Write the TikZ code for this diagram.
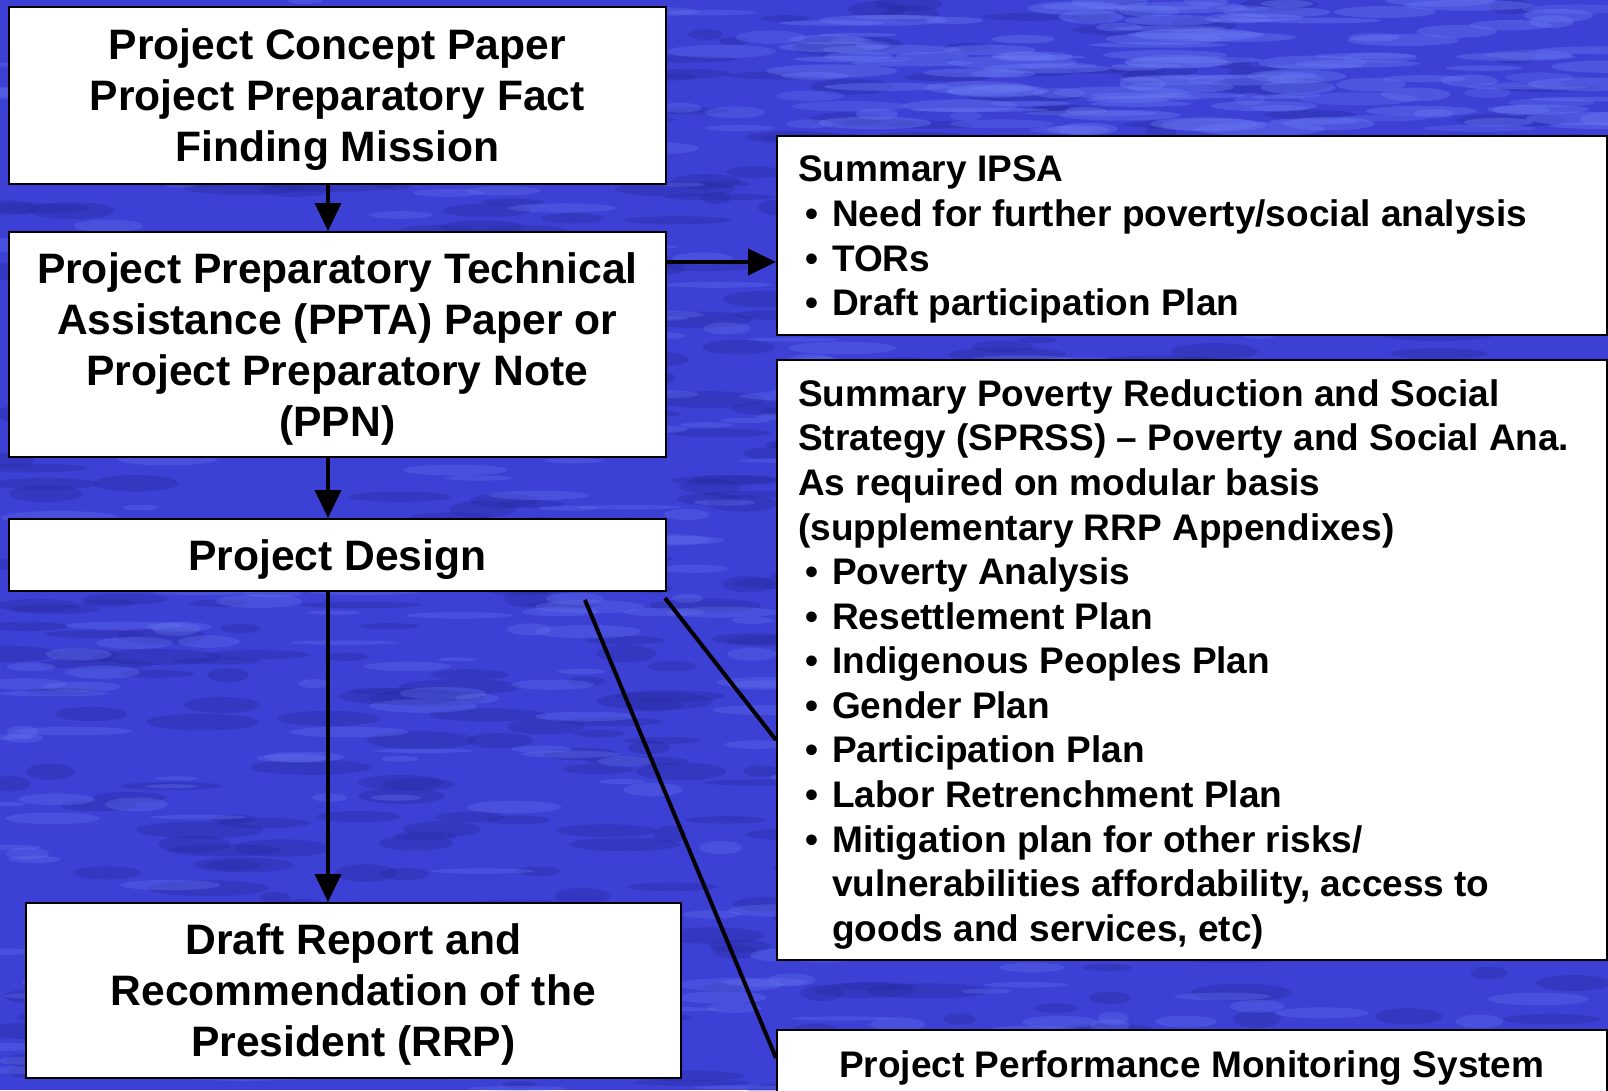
\documentclass[tikz,border=0pt]{standalone}
\usepackage{fontspec}
\setmainfont{Liberation Sans}
\usetikzlibrary{arrows.meta,calc}
\definecolor{bgblue}{RGB}{60,64,212}
\definecolor{bgdark}{RGB}{36,38,150}
\definecolor{bglight}{RGB}{105,120,242}
\newcommand{\bul}{\makebox[34pt][l]{\hspace{7pt}•}}
\newcommand{\ind}{\hspace*{34pt}}
\begin{document}
\begin{tikzpicture}[x=1pt,y=1pt,
  box/.style={draw=black, line width=1.6pt, fill=white, inner sep=0pt, anchor=north west},
  ctext/.style={align=center, yshift=-4.5pt, font=\fontsize{42.6}{51}\selectfont\bfseries},
  ltext/.style={align=left, inner sep=0pt, anchor=west, yshift=-4.5pt, font=\fontsize{37}{44.6}\selectfont\bfseries},
  conn/.style={line width=4pt},
  arr/.style={conn, -{Triangle[length=28pt,width=26pt]}}]
\useasboundingbox (0,0) rectangle (1608,-1090);
\begin{scope}
\clip (0,0) rectangle (1608,-1090);
\fill[bgblue] (0,0) rectangle (1608,-1090);
\pgfmathsetseed{7}
\foreach \i in {1,...,600}{
  \pgfmathsetmacro\cx{rnd*1608}
  \pgfmathsetmacro\cy{-rnd*1090}
  \pgfmathsetmacro\rw{15+rnd*50}
  \pgfmathsetmacro\rh{3+rnd*6}
  \fill[bgdark,opacity=0.3] (\cx,\cy) ellipse [x radius=\rw, y radius=\rh];
}
\foreach \i in {1,...,450}{
  \pgfmathsetmacro\cx{rnd*1608}
  \pgfmathsetmacro\cy{-rnd*1090}
  \pgfmathsetmacro\rw{15+rnd*45}
  \pgfmathsetmacro\rh{2+rnd*5}
  \fill[bglight,opacity=0.3] (\cx,\cy) ellipse [x radius=\rw, y radius=\rh];
}
\foreach \i in {1,...,120}{
  \pgfmathsetmacro\cx{800+rnd*808}
  \pgfmathsetmacro\cy{-rnd*130}
  \pgfmathsetmacro\rw{20+rnd*50}
  \pgfmathsetmacro\rh{2+rnd*5}
  \fill[bglight,opacity=0.4] (\cx,\cy) ellipse [x radius=\rw, y radius=\rh];
}
\end{scope}

% left column
\node[box, minimum width=657pt, minimum height=177pt] (b1) at (8,-6) {};
\node[ctext] (t1) at (b1.center) {Project Concept Paper\\Project Preparatory Fact\\Finding Mission};
\node[box, minimum width=657pt, minimum height=225pt] (b2) at (8,-231) {};
\node[ctext] (t2) at (b2.center) {Project Preparatory Technical\\Assistance (PPTA) Paper or\\Project Preparatory Note\\(PPN)};
\node[box, minimum width=657pt, minimum height=72pt] (b3) at (8,-518) {};
\node[ctext] (t3) at (b3.center) {Project Design};
\node[box, minimum width=655pt, minimum height=175pt] (b4) at (25,-902) {};
\node[ctext] (t4) at (b4.center) {Draft Report and\\Recommendation of the\\President (RRP)};

% right column
\node[box, minimum width=830pt, minimum height=199pt] (b5) at (776,-135) {};
\node[ltext] (t5) at ($(b5.west)+(22,0)$) {Summary IPSA\\
\bul Need for further poverty/social analysis\\
\bul TORs\\
\bul Draft participation Plan};
\node[box, minimum width=830pt, minimum height=600pt] (b6) at (776,-359) {};
\node[ltext] (t6) at ($(b6.west)+(22,0)$) {Summary Poverty Reduction and Social\\
Strategy (SPRSS) – Poverty and Social Ana.\\
As required on modular basis\\
(supplementary RRP Appendixes)\\
\bul Poverty Analysis\\
\bul Resettlement Plan\\
\bul Indigenous Peoples Plan\\
\bul Gender Plan\\
\bul Participation Plan\\
\bul Labor Retrenchment Plan\\
\bul Mitigation plan for other risks/\\
\ind vulnerabilities affordability, access to\\
\ind goods and services, etc)};
\node[box, minimum width=830pt, minimum height=68pt] (b7) at (776,-1029) {};
\node[ltext, anchor=center] (t7) at (b7.center) {Project Performance Monitoring System};

% connectors
\coordinate (ax) at (328,0);
\coordinate (ay) at (0,-262);
\draw[arr] (b1.south -| ax) -- (b2.north -| ax);
\draw[arr] (b2.east |- ay) -- (b5.west |- ay);
\draw[arr] (b2.south -| ax) -- (b3.north -| ax);
\draw[arr] (b3.south -| ax) -- (b4.north -| ax);
\coordinate (d1a) at (665,-598);
\coordinate (d1b) at (776,-740);
\coordinate (d2a) at (585,-600);
\coordinate (d2b) at (776,-1058);
\draw[conn] (d1a) -- (d1b);
\draw[conn] (d2a) -- (d2b);
\end{tikzpicture}
\end{document}
